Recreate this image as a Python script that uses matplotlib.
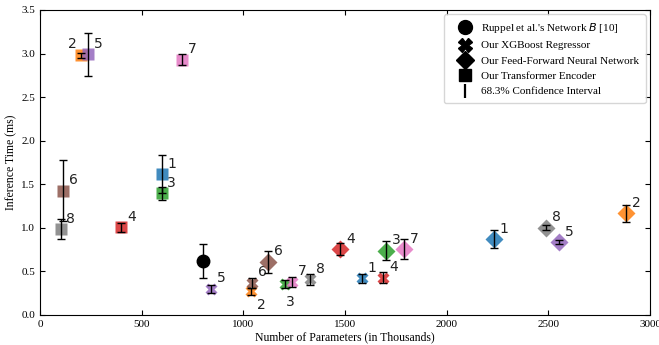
import matplotlib
matplotlib.use("Agg")
import matplotlib.pyplot as plt
from matplotlib.lines import Line2D

# model ids 1..8 -> tab10 colours
ids = [1, 2, 3, 4, 5, 6, 7, 8]
colors = ["tab:blue", "tab:orange", "tab:green", "tab:red",
          "tab:purple", "tab:brown", "tab:pink", "tab:gray"]

# Ruppel et al.'s Network B
ruppel_x, ruppel_y, ruppel_err = 800, 0.62, 0.20

# XGBoost regressor
xgb_x = [1582, 1036, 1207, 1689, 840, 1044, 1241, 1330]
xgb_y = [0.42, 0.27, 0.355, 0.43, 0.30, 0.37, 0.38, 0.41]
xgb_err = [0.05, 0.04, 0.05, 0.06, 0.05, 0.06, 0.06, 0.06]

# feed-forward neural network
ffn_x = [2233, 2881, 1702, 1476, 2554, 1123, 1792, 2489]
ffn_y = [0.87, 1.165, 0.74, 0.755, 0.835, 0.61, 0.755, 1.0]
ffn_err = [0.10, 0.10, 0.105, 0.07, 0.02, 0.13, 0.115, 0.03]

# transformer encoder
tr_x = [598, 200, 598, 400, 235, 113, 700, 102]
tr_y = [1.615, 2.98, 1.395, 1.005, 2.99, 1.425, 2.93, 0.985]
tr_err = [0.22, 0.03, 0.07, 0.05, 0.25, 0.35, 0.06, 0.115]

# label offsets (points) that differ from the default up-right one
default_off = (7.3, 7.6)
xgb_off = {2: (8, -9.6), 3: (3.4, -12.7)}
tr_off = {2: (-6, 8)}

plt.rcParams['font.family'] = ['Liberation Serif', 'DejaVu Serif']

fig = plt.figure(figsize=(6.59, 3.45), dpi=100)
ax = fig.add_axes([40/659, 1-315/345, 610/659, 305/345])

ekw = dict(fmt="none", ecolor="black", elinewidth=1.0, capsize=3, capthick=1.0, zorder=4)
lab = dict(textcoords="offset points", ha="center", va="center",
           fontsize=10, family="DejaVu Sans", color="#222222")


def draw(xs, ys, errs, marker, ms, offs):
    for i in range(len(ids)):
        ax.plot(xs[i], ys[i], marker=marker, ms=ms, color=colors[i],
                alpha=0.85, mec="none", ls="none", zorder=3)
        ax.errorbar(xs[i], ys[i], yerr=errs[i], **ekw)
        ax.annotate(str(ids[i]), (xs[i], ys[i]),
                    xytext=offs.get(ids[i], default_off), **lab)


draw(xgb_x, xgb_y, xgb_err, "X", 9, xgb_off)
draw(ffn_x, ffn_y, ffn_err, "D", 9.5, {})
draw(tr_x, tr_y, tr_err, "s", 8.5, tr_off)

ax.plot(ruppel_x, ruppel_y, "o", ms=9, color="black", zorder=3)
ax.errorbar(ruppel_x, ruppel_y, yerr=ruppel_err, **ekw)

ax.set_xlim(0, 3000)
ax.set_ylim(0, 3.5)
ax.set_xticks(range(0, 3001, 500))
ax.set_yticks([0.0, 0.5, 1.0, 1.5, 2.0, 2.5, 3.0, 3.5])
ax.tick_params(direction="in", top=True, right=True, labelsize=8, length=3.5)
ax.set_xlabel("Number of Parameters (in Thousands)", fontsize=8.5, labelpad=2)
ax.set_ylabel("Inference Time (ms)", fontsize=8.5, labelpad=3)

handles = [
    Line2D([], [], marker="o", color="black", ls="none", ms=10),
    Line2D([], [], marker="X", color="black", ls="none", ms=10),
    Line2D([], [], marker="D", color="black", ls="none", ms=9),
    Line2D([], [], marker="s", color="black", ls="none", ms=9),
    Line2D([], [], marker="|", color="black", ls="none", ms=10, mew=1.6),
]
names = ["Ruppel et al.'s Network $B$ [10]", "Our XGBoost Regressor",
         "Our Feed-Forward Neural Network", "Our Transformer Encoder",
         "68.3% Confidence Interval"]
ax.legend(handles, names, loc="upper right", fontsize=8, frameon=True,
          handlelength=2.6, handletextpad=0.1, borderpad=0.6,
          labelspacing=0.5, borderaxespad=0.4)

fig.savefig("out.png", dpi=100)
